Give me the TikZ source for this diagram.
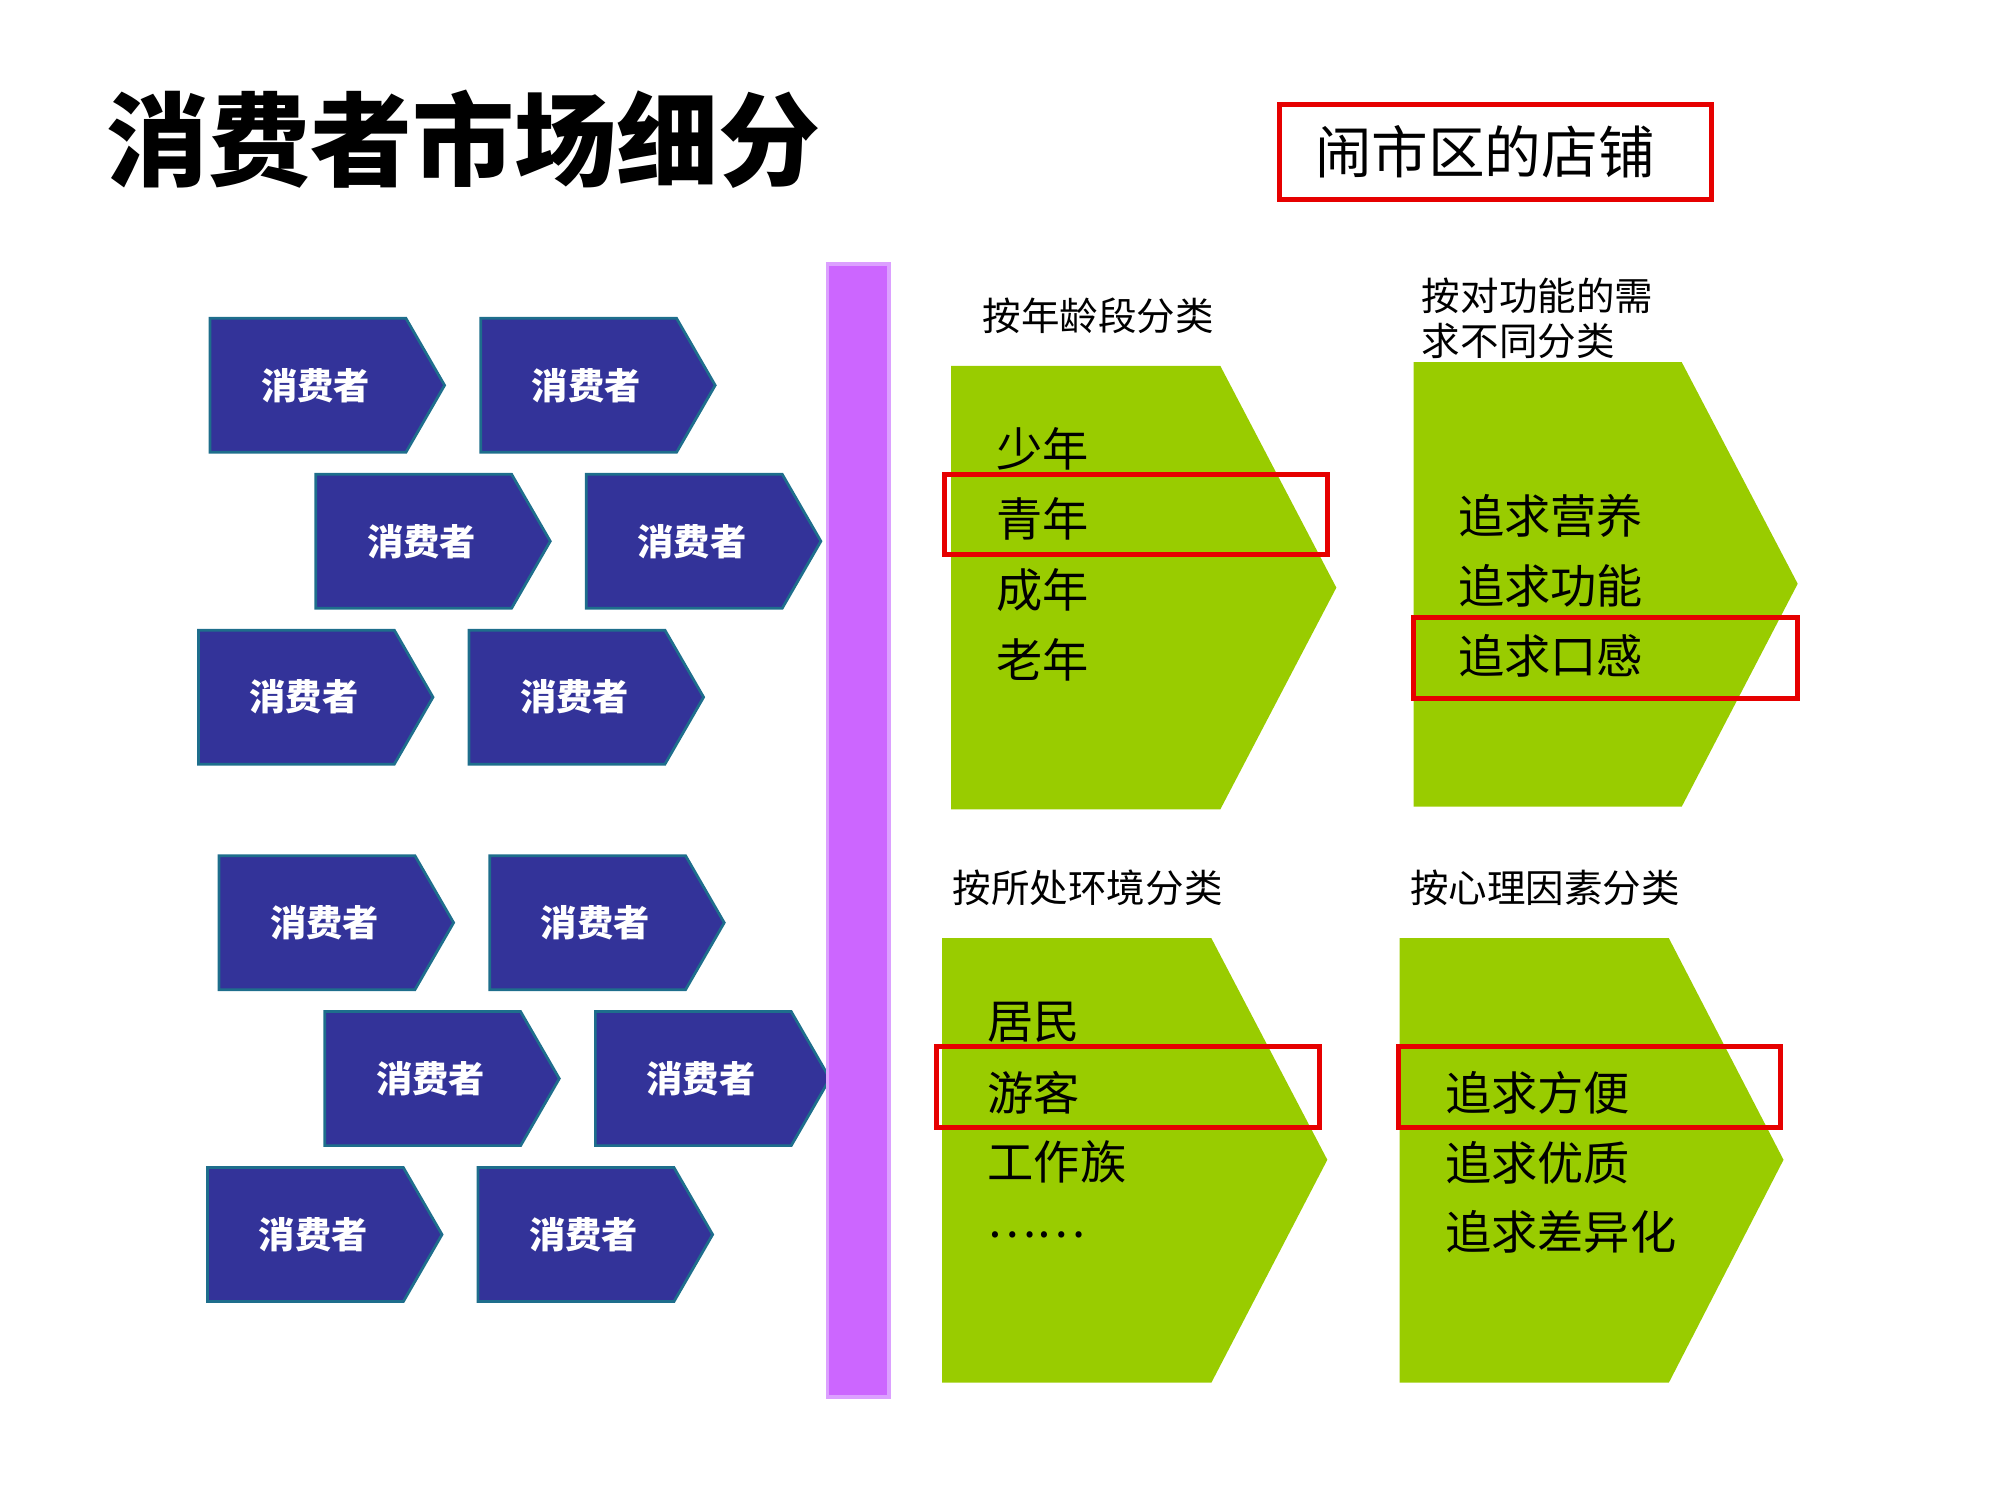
\documentclass[tikz,border=0pt]{standalone}
\usepackage{fontspec}
\setmainfont{Noto Sans CJK SC}
\newfontfamily\cjkb{Noto Sans CJK SC Bold}
\begin{document}
\begin{tikzpicture}[x=0.01cm,y=-0.01cm,
  chev/.style={fill=blue!55!black!90!cyan, fill={rgb,255:red,51;green,51;blue,153}, draw={rgb,255:red,30;green,110;blue,140}, line width=0.6pt},
  chevtxt/.style={text=white, font=\fontsize{8}{9}\selectfont\bfseries},
  green/.style={fill={rgb,255:red,153;green,204;blue,0}},
  redbox/.style={draw={rgb,255:red,230;green,0;blue,0}, line width=1.1pt},
  cat/.style={anchor=west, font=\fontsize{8.5}{10}\selectfont},
  item/.style={anchor=west, font=\fontsize{10.2}{12}\selectfont}]
\useasboundingbox (0,0) rectangle (1552,1164);
% title
\node[anchor=west, font=\fontsize{22.5}{26}\selectfont\bfseries] (title) at (70,108) {消费者市场细分};
\draw[redbox] (993,81) rectangle (1328,155);
\node[anchor=west, font=\fontsize{12.5}{14}\selectfont] (shop) at (1008,118) {闹市区的店铺};
% chevrons
\foreach \x/\y [count=\i] in {163/247,373/247,245/368,455/368,154/489,364/489,170/664,380/664,252/785,462/785,161/906,371/906}{
  \draw[chev] (\x,\y) -- ++(152,0) -- ++(30,52) -- ++(-30,52) -- ++(-152,0) -- cycle;
  \node[chevtxt] (c\i) at (\x+82,\y+52) {消费者};
}
% purple bar
\draw[fill={rgb,255:red,204;green,102;blue,255}, draw={rgb,255:red,220;green,160;blue,255}, line width=0.8pt] (642,205) rectangle (690,1084);
% green shapes
\fill[green] (738,284) -- (947,284) -- (1037,456) -- (947,628) -- (738,628) -- cycle;
\fill[green] (1097,281) -- (1305,281) -- (1395,453) -- (1305,626) -- (1097,626) -- cycle;
\fill[green] (731,728) -- (940,728) -- (1030,900) -- (940,1073) -- (731,1073) -- cycle;
\fill[green] (1086,728) -- (1295,728) -- (1384,900) -- (1295,1073) -- (1086,1073) -- cycle;
% categories
\node[cat] (k1) at (750,245) {按年龄段分类};
\node[cat, align=left, font=\fontsize{8.5}{10}\selectfont] (k2) at (1091,247) {按对功能的需\\求不同分类};
\node[cat] (k3) at (727,689) {按所处环境分类};
\node[cat] (k4) at (1082,689) {按心理因素分类};
% items
\node[item] (a1) at (761,348) {少年};
\node[item] (a2) at (761,403) {青年};
\node[item] (a3) at (761,458) {成年};
\node[item] (a4) at (761,512) {老年};
\node[item] (b1) at (1119,400) {追求营养};
\node[item] (b2) at (1119,455) {追求功能};
\node[item] (b3) at (1119,509) {追求口感};
\node[item] (d1) at (754,793) {居民};
\node[item] (d2) at (754,848) {游客};
\node[item] (d3) at (754,902) {工作族};
\node[item] (d4) at (754,958) {……};
\node[item] (e1) at (1109,848) {追求方便};
\node[item] (e2) at (1109,902) {追求优质};
\node[item] (e3) at (1109,956) {追求差异化};
% red boxes
\draw[redbox] (733,368) rectangle (1030,430);
\draw[redbox] (1097,479) rectangle (1395,542);
\draw[redbox] (727,812) rectangle (1024,875);
\draw[redbox] (1085,812) rectangle (1382,875);
\end{tikzpicture}
\end{document}
